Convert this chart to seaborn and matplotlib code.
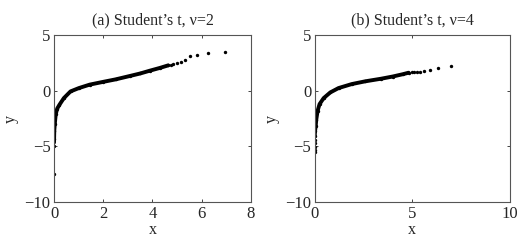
import matplotlib
matplotlib.use("Agg")
import matplotlib.pyplot as plt
import seaborn as sns

# panel (a): Student's t, nu=2
dense_x_a = [0.00, 0.00, 0.01, 0.03, 0.07, 0.13, 0.22, 0.40, 0.67, 1.01, 1.45, 2.00,
             2.50, 3.07, 3.50, 3.89, 4.30, 4.64]
dense_y_a = [-5.00, -4.30, -3.60, -3.00, -2.10, -1.60, -1.26, -0.66, -0.06, 0.24, 0.55, 0.80,
             1.02, 1.32, 1.55, 1.80, 2.05, 2.28]
tail_x_a = [0.00, 4.74, 4.85, 5.01, 5.15, 5.31, 5.53, 5.82, 6.24, 6.93]
tail_y_a = [-7.48, 2.34, 2.40, 2.52, 2.58, 2.79, 3.09, 3.21, 3.41, 3.45]

# panel (b): Student's t, nu=4
dense_x_b = [0.00, 0.02, 0.05, 0.08, 0.15, 0.25, 0.46, 0.80, 1.22, 1.90, 2.60, 3.40,
             4.00, 4.50, 4.81]
dense_y_b = [-4.10, -3.60, -3.20, -2.60, -1.80, -1.20, -0.66, -0.15, 0.24, 0.60, 0.85, 1.08,
             1.28, 1.48, 1.62]
tail_x_b = [0.00, 0.00, 0.00, 0.00, 0.00, 4.98, 5.07, 5.24, 5.41, 5.58, 5.88, 6.29, 6.97]
tail_y_b = [-5.48, -5.33, -5.03, -4.73, -4.43, 1.65, 1.68, 1.68, 1.70, 1.74, 1.86, 2.01, 2.22]

titles = ["(a) Student\u2019s t, \u03bd=2", "(b) Student\u2019s t, \u03bd=4"]
xticks = [[0, 2, 4, 6, 8], [0, 5, 10]]
yticks = [-10, -5, 0, 5]

sns.set_style("ticks")
plt.rcParams["font.family"] = ["Liberation Serif", "DejaVu Serif"]
plt.rcParams["font.size"] = 9
plt.rcParams["axes.unicode_minus"] = True

fig = plt.figure(figsize=(5.25, 2.42), dpi=100)
ax1 = fig.add_axes([0.1029, 0.165, 0.375, 0.69])
ax2 = fig.add_axes([0.5994, 0.165, 0.372, 0.69])

panels = [
    (ax1, dense_x_a, dense_y_a, tail_x_a, tail_y_a),
    (ax2, dense_x_b, dense_y_b, tail_x_b, tail_y_b),
]

for i, (ax, dx, dy, tx, ty) in enumerate(panels):
    sns.lineplot(x=dx, y=dy, sort=False, color="black", linewidth=2.8, ax=ax)
    sns.scatterplot(x=dx + tx, y=dy + ty, color="black", s=6, linewidth=0, ax=ax)
    ax.set_xlim(xticks[i][0], xticks[i][-1])
    ax.set_ylim(-10, 5)
    ax.set_xticks(xticks[i])
    ax.set_yticks(yticks)
    ax.tick_params(direction="in", length=2, width=0.6, top=True, right=True,
                   labelsize=12)
    ax.tick_params(axis="x", pad=3)
    ax.tick_params(axis="y", pad=2.5)
    for sp in ax.spines.values():
        sp.set_color("#555555")
        sp.set_linewidth(0.8)
    ax.set_title(titles[i], fontsize=11.5, pad=8)
    ax.set_xlabel("x", fontsize=11.5, labelpad=0)
    ax.set_ylabel("y", fontsize=11.5, labelpad=4)

fig.savefig("out.png", dpi=100)
